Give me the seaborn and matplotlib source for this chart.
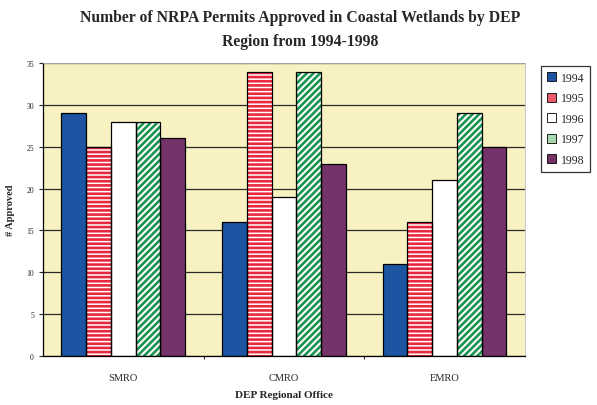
## Number of NRPA permits approved in coastal wetlands by DEP region, 1994-1998

## import libraries
import pandas as pd
import numpy as np
import matplotlib
matplotlib.use('Agg')
import matplotlib.pyplot as plt
from matplotlib.patches import Rectangle, Patch
import seaborn as sns

## chart data
regions = ['SMRO', 'CMRO', 'EMRO']
years = ['1994', '1995', '1996', '1997', '1998']
permits_1994 = [29, 16, 11]
permits_1995 = [25, 34, 16]
permits_1996 = [28, 19, 21]
permits_1997 = [28, 34, 29]
permits_1998 = [26, 23, 25]
y_ticks = [0, 5, 10, 15, 20, 25, 30, 35]

## build a long dataframe for seaborn
values = [permits_1994, permits_1995, permits_1996, permits_1997, permits_1998]
rows = []
for yr, vals in zip(years, values):
    for reg, v in zip(regions, vals):
        rows.append({'Region': reg, 'Year': yr, 'Approved': v})
df = pd.DataFrame(rows)

## styles per year: face colour, hatch, hatch colour
face = ['#1d55a3', 'white', 'white', 'white', '#74346a']
hatch = ['', '----', '', '/////', '']
hatch_col = ['#1d55a3', '#e8283c', 'white', '#1a9450', '#74346a']

sns.set_style('white')
plt.rcParams['font.family'] = ['Liberation Serif', 'DejaVu Serif']
plt.rcParams['hatch.linewidth'] = 1.9

fig = plt.figure(figsize=(5.97, 4.06), dpi=100)
ax = fig.add_axes([0.072, 0.121, 0.807, 0.721])
ax.set_facecolor('#f8f2c2')

sns.barplot(data=df, x='Region', y='Approved', hue='Year', order=regions,
            hue_order=years, width=0.77, gap=0, legend=False, ax=ax,
            palette=face, edgecolor='none', linewidth=0, errorbar=None,
            zorder=2)

## hatches drawn with the edge colour, then a black outline on top
for i, cont in enumerate(ax.containers):
    for bar in cont:
        bar.set_facecolor(face[i])
        bar.set_hatch(hatch[i])
        bar.set_edgecolor(hatch_col[i])
        bar.set_linewidth(0)
        ax.add_patch(Rectangle(bar.get_xy(), bar.get_width(), bar.get_height(),
                               fill=False, edgecolor='black', linewidth=0.9,
                               zorder=3))

ax.set_ylim(0, 35)
ax.set_xlim(-0.5, 2.5)
ax.set_yticks(y_ticks)
ax.yaxis.grid(True, color='#2a2a2a', linewidth=0.9)
ax.set_axisbelow(True)
ax.tick_params(axis='y', labelsize=5.5, length=3, direction='out', left=True, width=0.8)
ax.tick_params(axis='x', labelsize=7.5, length=0, pad=12)
ax.set_xticks([0.5, 1.5], minor=True)
ax.tick_params(axis='x', which='minor', length=2.5, bottom=True, width=0.8)
for s in ['left', 'bottom']:
    ax.spines[s].set_color('black')
    ax.spines[s].set_linewidth(0.9)
for s in ['top', 'right']:
    ax.spines[s].set_color('#bbbbbb')
    ax.spines[s].set_linewidth(0.6)

ax.set_ylabel('# Approved', fontsize=7.5, fontweight='bold', labelpad=8)
ax.set_xlabel('DEP Regional Office', fontsize=8, fontweight='bold', labelpad=6)

fig.text(0.503, 0.975, 'Number of NRPA Permits Approved in Coastal Wetlands by DEP\nRegion from 1994-1998',
         ha='center', va='top', fontsize=11.3, fontweight='bold', linespacing=1.65)

## legend with small square keys
handles = [Patch(facecolor='#1d55a3', edgecolor='black', linewidth=0.6),
           Patch(facecolor='#e85a6a', edgecolor='black', linewidth=0.6),
           Patch(facecolor='white', edgecolor='black', linewidth=0.6),
           Patch(facecolor='#a8d8b0', edgecolor='black', linewidth=0.6),
           Patch(facecolor='#74346a', edgecolor='black', linewidth=0.6)]
leg = fig.legend(handles, years, loc='upper left', bbox_to_anchor=(0.906, 0.835),
                 fontsize=8.5, handlelength=0.8, handleheight=0.8, handletextpad=0.4,
                 labelspacing=0.72, borderpad=0.5, borderaxespad=0, frameon=True,
                 fancybox=False, edgecolor='black')
leg.get_frame().set_linewidth(0.9)

plt.savefig('out.png', dpi=100)
